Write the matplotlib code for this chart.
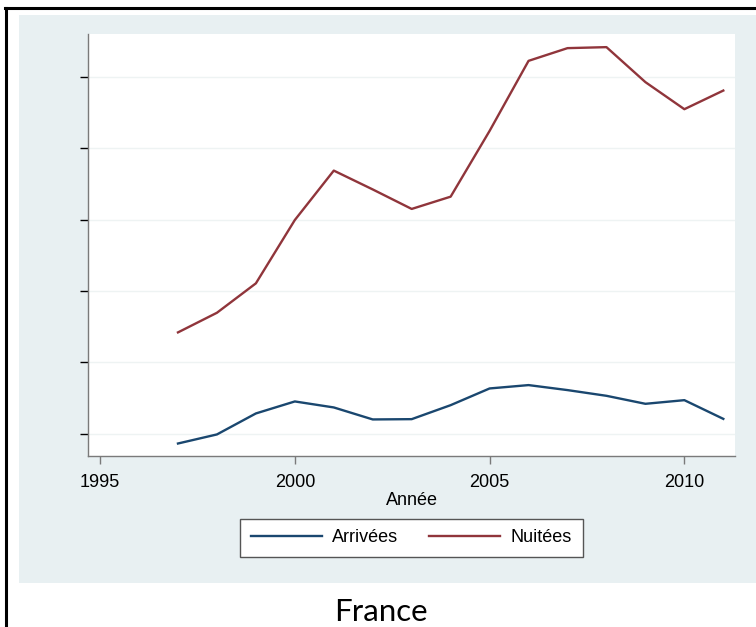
import matplotlib.pyplot as plt
from matplotlib.patches import Rectangle
from matplotlib.lines import Line2D

annees = list(range(1997, 2012))
arrivees = [-0.135, -0.008, 0.286, 0.454, 0.370, 0.202, 0.206, 0.402,
            0.636, 0.683, 0.613, 0.533, 0.421, 0.472, 0.210]
nuitees = [1.421, 1.696, 2.108, 2.995, 3.687, 3.423, 3.150, 3.322,
           4.243, 5.224, 5.402, 5.416, 4.926, 4.547, 4.808]
xticks = [1995, 2000, 2005, 2010]
yticks = [0, 1, 2, 3, 4, 5]

W, H = 756, 627
fig = plt.figure(figsize=(W / 100, H / 100), dpi=100)
plt.rcParams['font.family'] = ['Liberation Sans', 'DejaVu Sans']

# graph region background and frame lines
fig.add_artist(Rectangle((19 / W, 1 - 583 / H), (W - 19) / W, (583 - 15) / H,
                         transform=fig.transFigure, facecolor='#e8f0f2',
                         edgecolor='none', zorder=0))
fig.add_artist(Line2D([5 / W, 1], [1 - 7.5 / H, 1 - 7.5 / H],
                      transform=fig.transFigure, color='black', lw=2.2))
fig.add_artist(Line2D([6 / W, 6 / W], [0, 1 - 7.5 / H],
                      transform=fig.transFigure, color='black', lw=2.2))

ax = fig.add_axes([88 / W, 1 - 456 / H, (735 - 88) / W, (456 - 34) / H])
ax.set_facecolor('white')
ax.plot(annees, arrivees, color='#1a476f', lw=1.7, label='Arrivées')
ax.plot(annees, nuitees, color='#90353b', lw=1.7, label='Nuitées')

ax.set_xlim(1994.69, 2011.3)
ax.set_ylim(-0.31, 5.60)
ax.set_xticks(xticks)
ax.set_yticks(yticks)
ax.set_yticklabels([])
ax.grid(axis='y', color='#eef3f3', lw=1.0)
ax.set_axisbelow(True)
for s in ['top', 'right']:
    ax.spines[s].set_visible(False)
for s in ['left', 'bottom']:
    ax.spines[s].set_color('#7a7a7a')
    ax.spines[s].set_linewidth(1.0)
ax.tick_params(axis='y', length=6, width=1, color='black', direction='out')
ax.tick_params(axis='x', length=6, width=1, color='#7a7a7a', direction='out',
               labelsize=13, pad=7)
ax.set_xlabel('Année', fontsize=13, labelpad=1)

fig.legend(loc='center', bbox_to_anchor=(411.5 / W, 1 - 538 / H), ncol=2,
           fontsize=13, frameon=True, fancybox=False, edgecolor='#555555',
           framealpha=1, handlelength=3.9, columnspacing=1.7,
           handletextpad=0.6, borderpad=0.6)

fig.text(380.5 / W, 1 - 612 / H, 'France', ha='center', va='center',
         fontsize=22.5, family=['Lato', 'DejaVu Sans'])

fig.savefig('out.png', dpi=100)
